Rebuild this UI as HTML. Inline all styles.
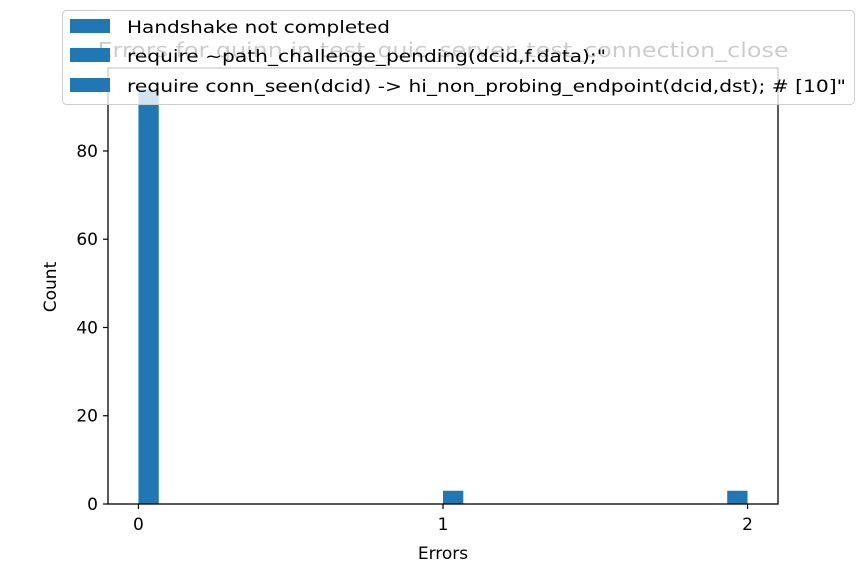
<!DOCTYPE html>
<html><head><meta charset="utf-8"><style>
html,body{margin:0;padding:0;background:#fff}
svg{display:block;font-family:"DejaVu Sans","Liberation Sans",sans-serif}
</style></head><body>
<svg id="chart" width="864" height="576" viewBox="0 0 864 576">
<rect width="864" height="576" fill="#fff"/>
<text x="443" y="57" font-size="20" text-anchor="middle" fill="#000" textLength="691" lengthAdjust="spacingAndGlyphs">Errors for quinn in test_quic_server_test_connection_close</text>
<g id="bars"></g>
<g id="axes"></g>
<text x="443" y="559" font-size="17" text-anchor="middle">Errors</text>
<text transform="translate(56,287) rotate(-90)" font-size="17" text-anchor="middle">Count</text>
<g>
<rect x="62.5" y="10.5" width="792" height="94" rx="4" fill="#fff" fill-opacity="0.8" stroke="#ccc"/>
<rect x="70" y="19" width="40" height="14" fill="#1f77b4"/>
<text x="127" y="33" font-size="17" textLength="263" lengthAdjust="spacingAndGlyphs">Handshake not completed</text>
<rect x="70" y="48" width="40" height="14" fill="#1f77b4"/>
<text x="127" y="62" font-size="17" textLength="479" lengthAdjust="spacingAndGlyphs">require ~path_challenge_pending(dcid,f.data);"</text>
<rect x="70" y="78" width="40" height="14" fill="#1f77b4"/>
<text x="127" y="92" font-size="17" textLength="719" lengthAdjust="spacingAndGlyphs">require conn_seen(dcid) -&gt; hi_non_probing_endpoint(dcid,dst);  # [10]"</text>
</g>
</svg>
<script>
const binStarts = [0, 1.0, 1.9333];
const counts = [94, 3, 3];
const binWidth = 2/30;
const yTicks = [0, 20, 40, 60, 80];
const xTicks = [0, 1, 2];

const L=108, R=778, T=68, B=504;
const xMin=-0.1, xMax=2.1, yMax=98.8;
const NS="http://www.w3.org/2000/svg";
function sx(v){return L+(v-xMin)/(xMax-xMin)*(R-L);}
function sy(v){return B-v/yMax*(B-T);}
function mk(tag,attrs,parent){const e=document.createElementNS(NS,tag);for(const k in attrs)e.setAttribute(k,attrs[k]);parent.appendChild(e);return e;}
const bars=document.getElementById('bars'), axes=document.getElementById('axes');
binStarts.forEach((b,i)=>{
  const x0=sx(b), x1=sx(b+binWidth);
  const r=mk('rect',{x:x0,y:sy(counts[i]),width:x1-x0,height:B-sy(counts[i]),fill:'#1f77b4'},bars);
  
  
});
const fr=mk('rect',{x:L,y:T,width:R-L,height:B-T,fill:'none',stroke:'#000','stroke-width':1.3},axes);


yTicks.forEach(v=>{
  const y=sy(v);
  const l=mk('line',{x1:L-5,x2:L,y1:y,y2:y,stroke:'#000','stroke-width':1.2},axes);
  
  
  const t=mk('text',{x:L-10,y:y+6,'font-size':17,'text-anchor':'end'},axes);
  t.textContent=v;
  
  
});
xTicks.forEach(v=>{
  const x=sx(v);
  const l=mk('line',{x1:x,x2:x,y1:B,y2:B+5,stroke:'#000','stroke-width':1.2},axes);
  
  
  const t=mk('text',{x:x,y:B+26,'font-size':17,'text-anchor':'middle'},axes);
  t.textContent=v;
  
  
});
</script>
</body></html>
